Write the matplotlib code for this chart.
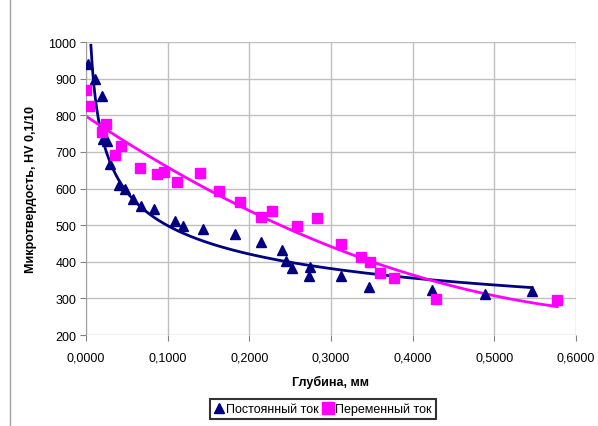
import numpy as np
import matplotlib.pyplot as plt
from matplotlib.lines import Line2D

# Постоянный ток (triangles)
dc_depth = [0.003, 0.011, 0.019, 0.021, 0.026, 0.030, 0.040, 0.048, 0.058, 0.067,
            0.083, 0.109, 0.119, 0.143, 0.182, 0.214, 0.240, 0.245, 0.252, 0.274,
            0.273, 0.312, 0.347, 0.424, 0.488, 0.546]
dc_hv = [940, 900, 852, 735, 730, 667, 610, 600, 572, 553,
         544, 512, 498, 490, 477, 455, 433, 403, 383, 385,
         360, 360, 330, 322, 313, 320]

# Переменный ток (squares)
ac_depth = [0.000, 0.004, 0.020, 0.024, 0.036, 0.043, 0.066, 0.087, 0.096, 0.112,
            0.140, 0.163, 0.189, 0.214, 0.228, 0.258, 0.283, 0.312, 0.337, 0.348,
            0.360, 0.377, 0.428, 0.577]
ac_hv = [869, 825, 754, 776, 691, 716, 655, 639, 645, 617,
         642, 593, 562, 522, 538, 497, 519, 448, 413, 399,
         369, 355, 298, 296]

x_ticks = [0.0, 0.1, 0.2, 0.3, 0.4, 0.5, 0.6]
y_ticks = [200, 300, 400, 500, 600, 700, 800, 900, 1000]

plt.rcParams['font.family'] = ['Liberation Sans', 'DejaVu Sans']

navy = '#000080'
magenta = '#ff00ff'

fig = plt.figure(figsize=(5.98, 4.27), dpi=100)
ax = fig.add_axes([0.1438, 0.2131, 0.8194, 0.6859])

ax.plot(dc_depth, dc_hv, linestyle='none', marker='^', markersize=7.5,
        color=navy, zorder=3)
ax.plot(ac_depth, ac_hv, linestyle='none', marker='s', markersize=7.5,
        color=magenta, zorder=3)

# trend lines like Excel: power law for DC, polynomial for AC
dx = np.array(dc_depth)
b, ln_a = np.polyfit(np.log(dx), np.log(dc_hv), 1)
xs = np.linspace(0.006, max(dc_depth), 300)
ax.plot(xs, np.exp(ln_a) * xs ** b, color=navy, lw=2, zorder=2)

p = np.polyfit(ac_depth, ac_hv, 2)
xs2 = np.linspace(0, max(ac_depth), 300)
ax.plot(xs2, np.polyval(p, xs2), color=magenta, lw=2, zorder=2)

ax.set_xlim(0, 0.6)
ax.set_ylim(200, 1000)
ax.set_xticks(x_ticks)
ax.set_yticks(y_ticks)
ax.set_xticklabels([f'{v:.4f}'.replace('.', ',') for v in x_ticks])
ax.tick_params(labelsize=9, length=4, color='#808080', pad=8)
ax.tick_params(axis='y', pad=3)
ax.grid(True, color='#c0c0c0', lw=1)
ax.set_axisbelow(True)
for s in ax.spines.values():
    s.set_visible(False)
ax.spines['left'].set_visible(True)
ax.spines['left'].set_color('#a0a0a0')

ax.set_xlabel('Глубина, мм', fontsize=9, fontweight='bold', labelpad=8)
ax.set_ylabel('Микротвердость, HV 0,1/10', fontsize=9, fontweight='bold', labelpad=8)

handles = [Line2D([], [], ls='none', marker='^', color=navy, markersize=7),
           Line2D([], [], ls='none', marker='s', color=magenta, markersize=8)]
leg = fig.legend(handles, ['Постоянный ток', 'Переменный ток'], ncol=2,
                 loc='center', bbox_to_anchor=(0.54, 0.04), fontsize=9,
                 frameon=True, fancybox=False, edgecolor='black',
                 handlelength=0.8, handletextpad=0.2, columnspacing=0.3,
                 borderpad=0.3, borderaxespad=0)
leg.get_frame().set_linewidth(1.5)

fig.add_artist(Line2D([10 / 598, 10 / 598], [0, 1], color='#a0a0a0', lw=1))

fig.savefig('out.png', dpi=100)
